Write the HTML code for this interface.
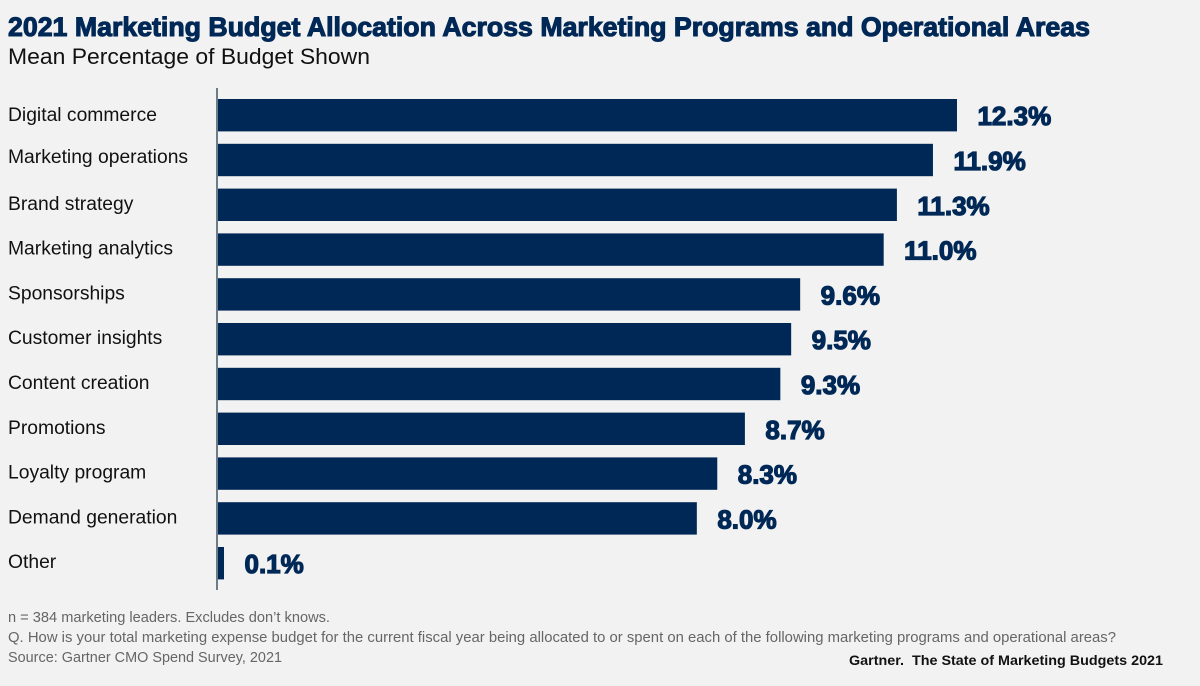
<!DOCTYPE html>
<html lang="en">
<head>
<meta charset="utf-8">
<title>2021 Marketing Budget Allocation</title>
<style>
html,body{margin:0;padding:0;background:#f2f2f2;}
body{width:1200px;height:686px;overflow:hidden;font-family:"Liberation Sans",sans-serif;}
svg{display:block;}
text{font-family:"Liberation Sans",sans-serif;}
</style>
</head>
<body>
<svg id="chart" width="1200" height="686" viewBox="0 0 1200 686" xmlns="http://www.w3.org/2000/svg">
  <rect x="0" y="0" width="1200" height="686" fill="#f2f2f2"/>
  <text x="8" y="36" font-size="27" font-weight="700" fill="#002856" stroke="#002856" stroke-width="1.1" textLength="1082" lengthAdjust="spacingAndGlyphs">2021 Marketing Budget Allocation Across Marketing Programs and Operational Areas</text>
  <text x="8" y="64" font-size="22" fill="#111111" textLength="362" lengthAdjust="spacingAndGlyphs">Mean Percentage of Budget Shown</text>
  <g id="plot"></g>
  <rect x="216" y="88" width="2" height="502" fill="#6d7d88"/>
  <text x="8" y="622" font-size="14.5" fill="#666666" textLength="322" lengthAdjust="spacingAndGlyphs">n = 384 marketing leaders. Excludes don’t knows.</text>
  <text x="8" y="642" font-size="14.5" fill="#666666" textLength="1108" lengthAdjust="spacingAndGlyphs">Q. How is your total marketing expense budget for the current fiscal year being allocated to or spent on each of the following marketing programs and operational areas?</text>
  <text x="8" y="662" font-size="14.5" fill="#666666" textLength="274" lengthAdjust="spacingAndGlyphs">Source: Gartner CMO Spend Survey, 2021</text>
  <text x="849" y="665" font-size="14" font-weight="700" fill="#111111" textLength="314" lengthAdjust="spacingAndGlyphs" xml:space="preserve">Gartner.  The State of Marketing Budgets 2021</text>
</svg>
<script>
const categories = ["Digital commerce","Marketing operations","Brand strategy","Marketing analytics","Sponsorships","Customer insights","Content creation","Promotions","Loyalty program","Demand generation","Other"];
// Bar lengths (percent of budget).
const barValues = [12.3,11.9,11.3,11.08,9.69,9.54,9.36,8.77,8.31,7.97,0.1];
const printedValues = ["12.3%","11.9%","11.3%","11.0%","9.6%","9.5%","9.3%","8.7%","8.3%","8.0%","0.1%"];

const NS = "http://www.w3.org/2000/svg";
const plot = document.getElementById("plot");
const x0 = 218, pxPerUnit = 60.08, top0 = 99, step = 44.8, barH = 32.4;
const xScale = function (v) { return x0 + v * pxPerUnit; };
const yScale = function (i) { return top0 + i * step; };

categories.forEach(function (name, i) {
  const y = yScale(i);
  const cy = y + barH / 2;
  const w = Math.max(xScale(barValues[i]) - x0, 0);

  const label = document.createElementNS(NS, "text");
  label.setAttribute("x", 8);
  label.setAttribute("y", cy + (i === 0 ? 6 : i === 1 ? 3 : 5));
  label.setAttribute("font-size", "19.3");
  label.setAttribute("fill", "#111111");
  label.textContent = name;
  
  
  plot.appendChild(label);

  const bar = document.createElementNS(NS, "rect");
  bar.setAttribute("x", x0);
  bar.setAttribute("y", y);
  bar.setAttribute("width", w);
  bar.setAttribute("height", barH);
  bar.setAttribute("fill", "#002856");
  
  
  plot.appendChild(bar);

  const val = document.createElementNS(NS, "text");
  val.setAttribute("x", x0 + w + 20.5);
  val.setAttribute("y", cy + 10);
  val.setAttribute("font-size", "26");
  val.setAttribute("font-weight", "700");
  val.setAttribute("fill", "#002856");
  val.setAttribute("stroke", "#002856");
  val.setAttribute("stroke-width", "1.2");
  val.textContent = printedValues[i];
  
  
  plot.appendChild(val);
});
</script>
</body>
</html>
